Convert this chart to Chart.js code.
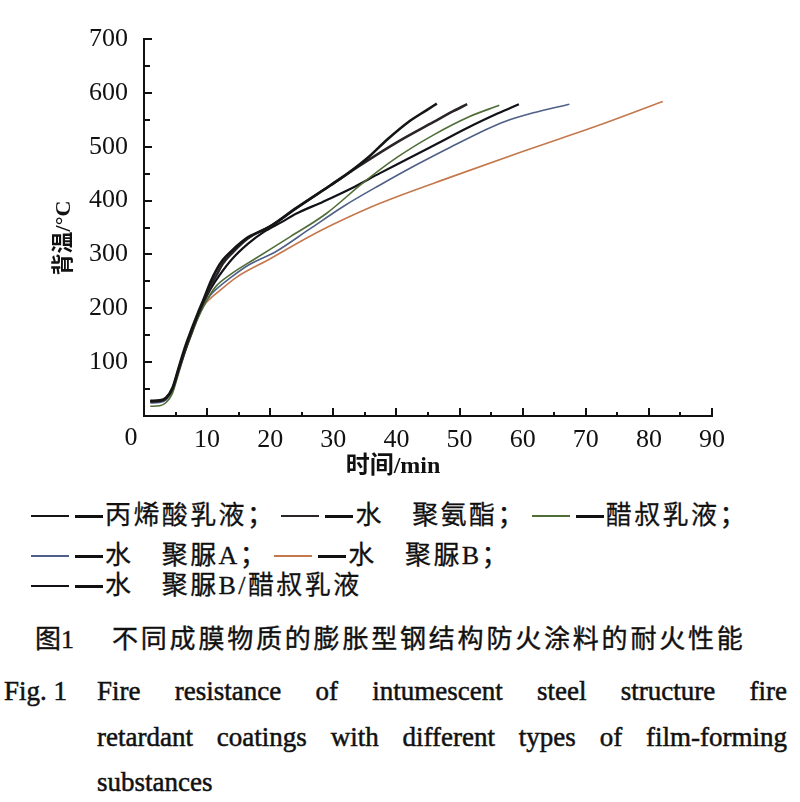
<!DOCTYPE html>
<html>
<head>
<meta charset="utf-8">
<script src="https://cdn.jsdelivr.net/npm/chart.js@4.4.1/dist/chart.umd.min.js"></script>
<style>
  body { margin: 0; background: #fff; width: 800px; height: 802px; overflow: hidden; position: relative;
         font-family: "Noto Sans CJK SC", sans-serif; color: #111; }
  #wrap { position: absolute; left: 0; top: 0; width: 800px; height: 480px; }
  .lrow { position: absolute; left: 31px; font-family: "Liberation Serif", "Noto Sans CJK SC", serif;
          font-size: 26px; letter-spacing: 2.4px; line-height: 30px; white-space: nowrap; -webkit-text-stroke: 0.3px #111; }
  .item { display: inline-flex; align-items: center; }
  .sw { display: inline-block; width: 38px; height: 2px; margin-right: 6px; }
  .dash { display: inline-block; width: 28px; height: 3px; background: #111; margin-right: 2px; }
  .cn { position: absolute; left: 35px; top: 618px; font-size: 26px; letter-spacing: 2.8px; white-space: nowrap;
        font-family: "Liberation Serif", "Noto Sans CJK SC", serif; -webkit-text-stroke: 0.4px #111; }
  .cn b { font-weight: normal; margin-right: 38px; letter-spacing: 0; }
  .en { position: absolute; font-family: "Liberation Serif", serif; font-size: 27px; white-space: nowrap;
        -webkit-text-stroke: 0.5px #111; }
  .just { text-align: justify; text-align-last: justify; width: 690px; white-space: normal; }
</style>
</head>
<body>
<div id="wrap"><canvas id="fig"></canvas></div>
<div id="legend"></div>
<div class="cn"><b>图1</b>不同成膜物质的膨胀型钢结构防火涂料的耐火性能</div>
<div class="en" style="left:4px;top:676px">Fig. 1</div>
<div class="en just" style="left:97px;top:676px">Fire resistance of intumescent steel structure fire</div>
<div class="en just" style="left:97px;top:722px">retardant coatings with different types of film-forming</div>
<div class="en" style="left:97px;top:767px">substances</div>
<script>
// series names (as printed in the figure legend)
const names = ["丙烯酸乳液", "水　聚氨酯", "醋叔乳液", "水　聚脲A", "水　聚脲B", "水　聚脲B/醋叔乳液"];
const colors = ["#151515", "#2a2428", "#4f6d36", "#4e6088", "#c4784c", "#111118"];
const widths = [2.6, 2.6, 1.6, 1.6, 1.6, 2.2];
const legendRows = [[0, 1, 2], [3, 4], [5]];

// time (min) / back-side temperature (°C)
const tAcrylic = [1, 2.5, 3.5, 4.5, 5.5, 6.5, 7.5, 8.5, 9.5, 10.5, 11.5, 12.5, 14, 16.5, 20, 24, 29.5, 32, 35.5, 38.5, 41.9, 44.8, 46.4];
const vAcrylic = [28, 29, 34, 52, 90, 128, 160, 190, 218, 248, 272, 290, 308, 332, 352, 385, 428, 448, 480, 513, 546, 568, 580];

const tPU = [1, 2.5, 3.5, 4.5, 5.5, 6.5, 7.5, 8.5, 9.5, 10.5, 11.5, 12.5, 14, 16.5, 20, 24, 29.5, 34.6, 40.2, 45.9, 49, 51.2];
const vPU = [27, 28, 33, 50, 86, 122, 155, 186, 214, 240, 262, 283, 303, 330, 352, 385, 428, 468, 509, 546, 566, 579];

const tVeova = [1, 2.5, 3.5, 4.5, 5.5, 6.5, 7.5, 8.5, 9.5, 10.5, 11.5, 13.6, 17.6, 23.2, 28.9, 34.6, 40.2, 45.9, 51.6, 56.3];
const vVeova = [18, 19, 25, 42, 80, 118, 150, 180, 205, 226, 242, 262, 292, 333, 376, 432, 481, 522, 556, 577];

const tPolyureaA = [1, 2.5, 3.5, 4.5, 5.5, 6.5, 7.5, 8.5, 9.5, 10.5, 11.5, 13.5, 16.5, 21, 26.1, 31.7, 37.4, 43.1, 48.7, 54.4, 57.2, 61.7, 67.4];
const vPolyureaA = [24, 25, 30, 47, 84, 120, 152, 182, 206, 224, 236, 255, 280, 306, 346, 390, 429, 466, 500, 533, 547, 563, 579];

const tPolyureaB = [1, 2.5, 3.5, 4.5, 5.5, 6.5, 7.5, 8.5, 9.5, 10.5, 11.5, 14.7, 20, 26, 30, 37.4, 48.7, 60, 71.4, 82.2];
const vPolyureaB = [26, 27, 32, 48, 85, 120, 152, 182, 205, 218, 228, 258, 292, 332, 356, 395, 444, 491, 537, 584];

const tMix = [1, 2.5, 3.5, 4.5, 5.5, 6.5, 7.5, 8.5, 9.5, 10.5, 12, 14, 16.5, 19, 21.8, 24, 28.4, 32.9, 37.4, 41.9, 46.5, 51.6, 56.1, 59.4];
const vMix = [27, 28, 33, 50, 87, 124, 156, 186, 212, 235, 262, 292, 320, 342, 360, 375, 398, 423, 451, 478, 506, 537, 562, 579];

const xTicks = [0, 10, 20, 30, 40, 50, 60, 70, 80, 90];
const yTicks = [0, 100, 200, 300, 400, 500, 600, 700];

const series = [[tAcrylic, vAcrylic], [tPU, vPU], [tVeova, vVeova], [tPolyureaA, vPolyureaA], [tPolyureaB, vPolyureaB], [tMix, vMix]];

// legend built as html rows below the plot
const legendEl = document.getElementById("legend");
const rowTops = [494, 534, 564];
legendRows.forEach((row, r) => {
  const div = document.createElement("div");
  div.className = "lrow";
  div.style.top = rowTops[r] + "px";
  row.forEach((i, k) => {
    const span = document.createElement("span");
    span.className = "item";
    const sep = (r < 2) ? "；" : "";
    span.innerHTML = '<i class="sw" style="background:' + colors[i] + '"></i><i class="dash"></i>' + names[i] + sep;
    if (k > 0) span.style.marginLeft = "6px";
    div.appendChild(span);
  });
  legendEl.appendChild(div);
});

const serif = "'Liberation Serif', 'Noto Sans CJK SC', serif";

// ticks point inward, plus the shared "0" and the axis titles
const axisDecor = {
  id: "axisDecor",
  afterDraw(chart) {
    const { ctx } = chart;
    const x = chart.scales.x, y = chart.scales.y;
    ctx.save();
    ctx.strokeStyle = "#111";
    ctx.lineWidth = 2;
    ctx.beginPath();
    for (let i = 1; i < xTicks.length * 2 - 1; i++) {
      const v = i * (xTicks[1] - xTicks[0]) / 2;
      const px = Math.round(x.getPixelForValue(v));
      const len = i % 2 === 0 ? 8 : 4;
      ctx.moveTo(px, y.bottom);
      ctx.lineTo(px, y.bottom - len);
    }
    for (let i = 1; i < yTicks.length * 2 - 1; i++) {
      const v = i * (yTicks[1] - yTicks[0]) / 2;
      const py = Math.round(y.getPixelForValue(v));
      const len = i % 2 === 0 ? 8 : 6;
      ctx.moveTo(x.left, py);
      ctx.lineTo(x.left + len, py);
    }
    ctx.stroke();

    ctx.fillStyle = "#111";
    ctx.font = "26px " + serif;
    ctx.textAlign = "center";
    ctx.textBaseline = "middle";
    ctx.fillText("0", x.left - 13, 438);

    ctx.font = "bold 24px " + serif;
    ctx.fillText("时间/min", 393, 467);

    ctx.translate(64, 238);
    ctx.rotate(-Math.PI / 2);
    ctx.font = "bold 22px " + serif;
    ctx.fillText("背温/°C", 0, 0);
    ctx.restore();
  }
};

new Chart(document.getElementById("fig"), {
  type: "line",
  data: {
    datasets: series.map((s, i) => ({
      label: names[i],
      data: s[0].map((t, k) => ({ x: t, y: s[1][k] })),
      borderColor: colors[i],
      borderWidth: widths[i],
      pointRadius: 0,
      cubicInterpolationMode: "monotone",
      fill: false
    }))
  },
  plugins: [axisDecor],
  options: {
    responsive: true,
    maintainAspectRatio: false,
    animation: false,
    layout: { padding: { top: 39, right: 88, bottom: 0, left: 0 } },
    plugins: { legend: { display: false }, tooltip: { enabled: false } },
    scales: {
      x: {
        type: "linear",
        min: 0, max: 90,
        afterBuildTicks: (s) => { s.ticks = xTicks.map(v => ({ value: v })); },
        afterFit: (s) => { s.height = 64; },
        grid: { display: false, drawTicks: false },
        border: { display: true, color: "#111", width: 2 },
        ticks: { color: "#111", padding: 9, maxRotation: 0, font: { family: serif, size: 26 },
                 callback: (v) => v === 0 ? "" : v }
      },
      y: {
        min: 0, max: 700,
        afterBuildTicks: (s) => { s.ticks = yTicks.map(v => ({ value: v })); },
        afterFit: (s) => { s.width = 144; },
        grid: { display: false, drawTicks: false },
        border: { display: true, color: "#111", width: 2 },
        ticks: { color: "#111", padding: 16, font: { family: serif, size: 26 },
                 callback: (v) => v === 0 ? "" : v }
      }
    }
  }
});
</script>
</body>
</html>
